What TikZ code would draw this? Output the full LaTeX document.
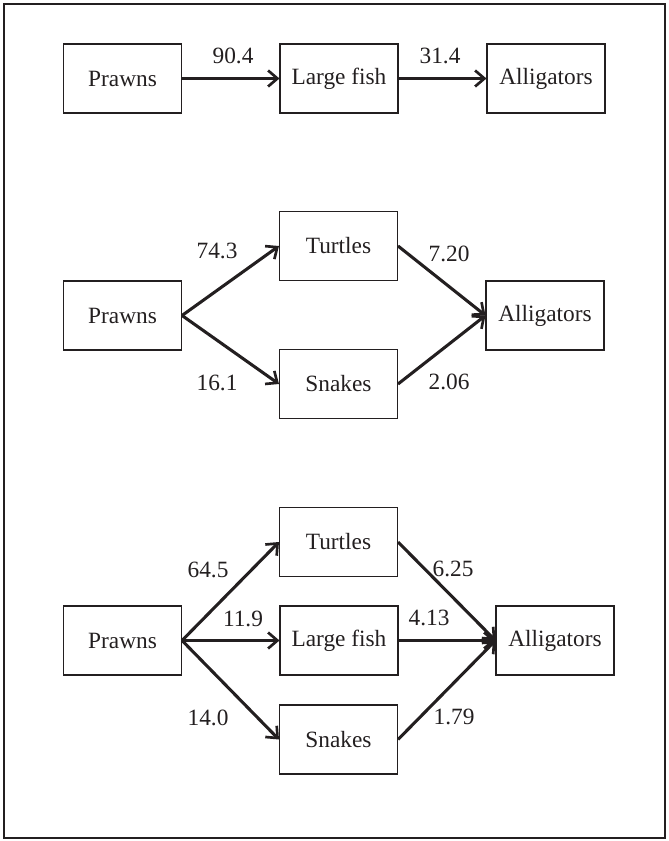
\documentclass[tikz,border=0pt]{standalone}
\usepackage{fontspec}
\setmainfont{Liberation Serif}
\usetikzlibrary{arrows.meta}
\definecolor{ink}{HTML}{231F20}
\begin{document}
\begin{tikzpicture}[x=0.75pt,y=-0.75pt,
  box/.style={draw=ink,line width=0.8pt,minimum width=88.5pt,minimum height=51.75pt,inner sep=0pt,font=\fontsize{17.5}{20}\selectfont,text=ink},
  lbl/.style={font=\fontsize{17.5}{20}\selectfont,text=ink,inner sep=0pt},
  flow/.style={draw=ink,line width=2.3pt,-{Straight Barb[length=7pt,width=12pt,line width=2pt]}}]
\useasboundingbox (0,0) rectangle (668,841);
\draw[ink,line width=1.5pt] (4,4) rectangle (665,838);
% Row 1
\node[box] (p1) at (122.5,78.5) {Prawns};
\node[box] (f1) at (339,78.5) {Large fish};
\node[box] (a1) at (546,78.5) {Alligators};
\draw[flow] (p1.east) -- (f1.west);
\draw[flow] (f1.east) -- (a1.west);
\node[lbl] (l1) at (233,56) {90.4};
\node[lbl] (l2) at (440,56) {31.4};
% Row 2
\node[box] (p2) at (122.5,315.5) {Prawns};
\node[box] (t2) at (338.5,246) {Turtles};
\node[box] (s2) at (338.5,384) {Snakes};
\node[box] (a2) at (545,315.5) {Alligators};
\draw[flow] (p2.east) -- (t2.west);
\draw[flow] (p2.east) -- (s2.west);
\draw[flow] (t2.east) -- (a2.west);
\draw[flow] (s2.east) -- (a2.west);
\node[lbl] (l3) at (217,251) {74.3};
\node[lbl] (l4) at (217,383) {16.1};
\node[lbl] (l5) at (449,254) {7.20};
\node[lbl] (l6) at (449,382) {2.06};
% Row 3
\node[box] (p3) at (122.5,640.5) {Prawns};
\node[box] (t3) at (338.5,542) {Turtles};
\node[box] (f3) at (339,640.5) {Large fish};
\node[box] (s3) at (338.5,739.5) {Snakes};
\node[box] (a3) at (555,640.5) {Alligators};
\draw[flow] (p3.east) -- (t3.west);
\draw[flow] (p3.east) -- (f3.west);
\draw[flow] (p3.east) -- (s3.west);
\draw[flow] (t3.east) -- (a3.west);
\draw[flow] (f3.east) -- (a3.west);
\draw[flow] (s3.east) -- (a3.west);
\node[lbl] (l7) at (208,570) {64.5};
\node[lbl] (l8) at (243,619) {11.9};
\node[lbl] (l9) at (208,718) {14.0};
\node[lbl] (l10) at (453,569) {6.25};
\node[lbl] (l11) at (429,618) {4.13};
\node[lbl] (l12) at (454,717) {1.79};
\end{tikzpicture}
\end{document}
